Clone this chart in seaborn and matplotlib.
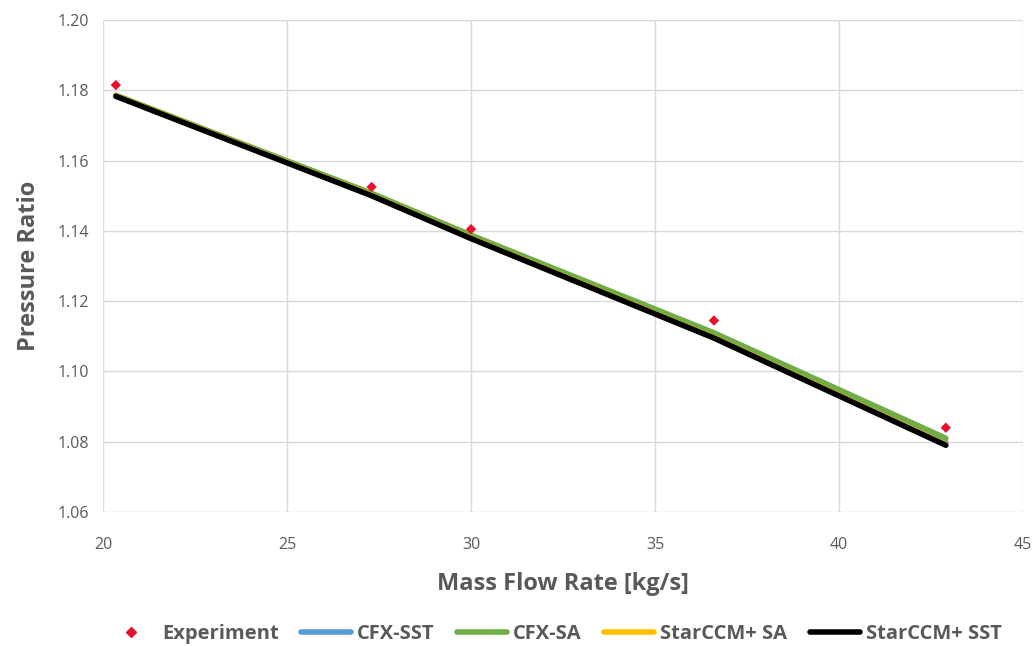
import matplotlib
matplotlib.use("Agg")
import matplotlib.pyplot as plt
import seaborn as sns
import pandas as pd
from matplotlib.lines import Line2D

mass_flow = [20.35, 27.3, 30.0, 36.6, 42.9]
experiment = [1.1815, 1.1525, 1.1405, 1.1145, 1.0840]
cfx_sst = [1.1785, 1.1503, 1.1382, 1.1100, 1.0798]
cfx_sa = [1.1786, 1.1507, 1.1388, 1.1110, 1.0810]
starccm_sa = [1.1784, 1.1501, 1.1379, 1.1096, 1.0792]
starccm_sst = [1.1783, 1.1500, 1.1378, 1.1095, 1.0790]

series_names = ["CFX-SST", "CFX-SA", "StarCCM+ SA", "StarCCM+ SST"]
series_vals = [cfx_sst, cfx_sa, starccm_sa, starccm_sst]
colors = ["#5b9bd5", "#70ad47", "#ffc000", "#000000"]

rows = []
for n, v in zip(series_names, series_vals):
    for x, y in zip(mass_flow, v):
        rows.append({"x": x, "y": y, "series": n})
df = pd.DataFrame(rows)
exp_df = pd.DataFrame({"x": mass_flow, "y": experiment})

sns.set_style("white")
plt.rcParams['font.family'] = ['Open Sans', 'DejaVu Sans']

fig = plt.figure(figsize=(10.35, 6.46), dpi=100)
ax = fig.add_axes([0.0995, 0.2074, 0.889, 0.7616])

sns.lineplot(data=df, x="x", y="y", hue="series", hue_order=series_names,
             palette=dict(zip(series_names, colors)), linewidth=4, ax=ax,
             legend=False, sort=False)
sns.scatterplot(data=exp_df, x="x", y="y", marker="D", color="#e8112d", s=28,
                edgecolor="none", ax=ax, legend=False, zorder=5)

ax.set_xlim(20, 45)
ax.set_ylim(1.06, 1.20)
ax.set_xticks(range(20, 46, 5))
ax.set_yticks([1.06 + 0.02 * i for i in range(8)])
ax.set_yticklabels([f"{1.06 + 0.02 * i:.2f}" for i in range(8)])
ax.grid(True, color="#d9d9d9", linewidth=1)
for s in ax.spines.values():
    s.set_visible(False)
ax.tick_params(axis="both", length=0, labelsize=11.5, colors="#595959")
ax.tick_params(axis="x", pad=18)
ax.tick_params(axis="y", pad=10)

ax.set_xlabel("Mass Flow Rate [kg/s]", fontsize=17, fontweight="bold", color="#595959", labelpad=14)
ax.set_ylabel("Pressure Ratio", fontsize=17, fontweight="bold", color="#595959", labelpad=12)

handles = [Line2D([], [], marker="D", color="#e8112d", linestyle="none", markersize=5)]
for n, c in zip(series_names, colors):
    handles.append(Line2D([], [], color=c, linewidth=4))
labels = ["Experiment"] + series_names
leg = fig.legend(handles, labels, loc="center", bbox_to_anchor=(0.535, 0.019),
                 ncol=5, frameon=False, fontsize=14.5, handlelength=2.5,
                 columnspacing=1.1, handletextpad=0.3, borderpad=0)
for t in leg.get_texts():
    t.set_color("#595959")
    t.set_fontweight("bold")

fig.savefig("out.png", dpi=100)
